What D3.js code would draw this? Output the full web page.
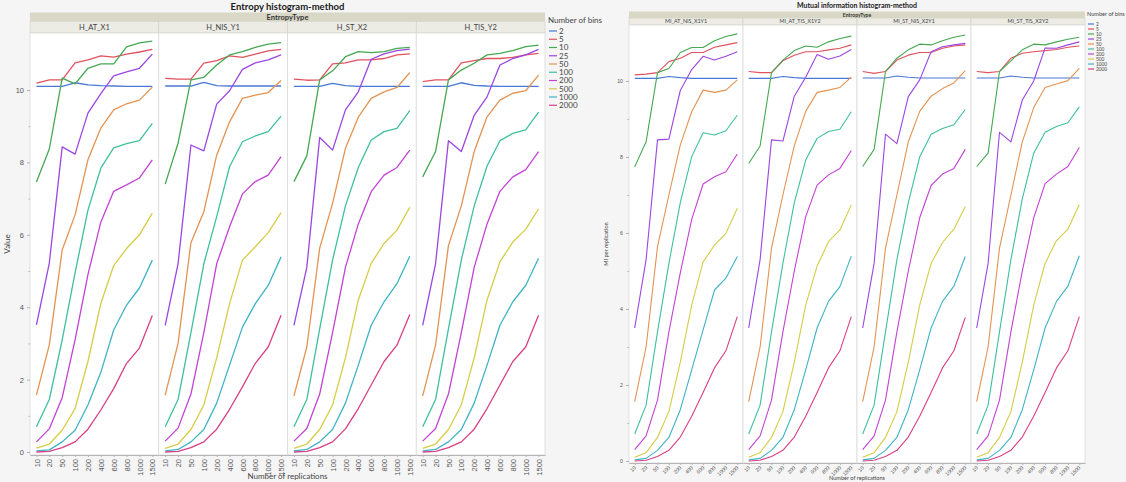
<!DOCTYPE html>
<html lang="en">
<head>
<meta charset="UTF-8">
<title>Entropy / Mutual information histogram-method</title>
<script src="https://d3js.org/d3.v7.min.js"></script>
<style>
    body {
        margin: 0;
        background-color: #f5f5f5;
        font-family: Lato, "Open Sans", "DejaVu Sans", sans-serif;
    }
    svg { display: block; }
    .axis path, .axis line { stroke: #b4b4b4; }
    .axis text { fill: #555; }
</style>
</head>
<body>
<svg id="chart" width="1126" height="482"></svg>
<script>
const replications = ["10", "20", "50", "100", "200", "400", "600", "800", "1000", "1500"];
const bins = ["2", "5", "10", "25", "50", "100", "200", "500", "1000", "2000"];
const entropyTypes = ["H_AT_X1", "H_NIS_Y1", "H_ST_X2", "H_TIS_Y2"];
const miTypes = ["MI_AT_NIS_X1Y1", "MI_AT_TIS_X1Y2", "MI_ST_NIS_X2Y1", "MI_ST_TIS_X2Y2"];
const yTicks = [0, 2, 4, 6, 8, 10];
const yMinorTicks = [1, 3, 5, 7, 9];

// one row per bin count (same order as bins), one value per replication count
const hAtX1 = [
    [10.1, 10.1, 10.1, 10.2, 10.14, 10.12, 10.11, 10.1, 10.1, 10.1],
    [10.19, 10.28, 10.28, 10.75, 10.83, 10.94, 10.91, 10.99, 11.05, 11.12],
    [7.46, 8.37, 10.33, 10.17, 10.6, 10.72, 10.72, 11.19, 11.3, 11.35],
    [3.51, 5.22, 8.43, 8.23, 9.36, 9.9, 10.39, 10.5, 10.6, 10.99],
    [1.57, 2.96, 5.58, 6.55, 8.07, 8.95, 9.45, 9.62, 9.72, 10.08],
    [0.7, 1.45, 3.1, 4.95, 6.68, 7.84, 8.4, 8.52, 8.6, 9.08],
    [0.28, 0.64, 1.5, 3.1, 4.9, 6.35, 7.2, 7.38, 7.57, 8.07],
    [0.11, 0.22, 0.6, 1.2, 2.5, 4.1, 5.15, 5.62, 6.0, 6.6],
    [0.03, 0.06, 0.28, 0.6, 1.3, 2.2, 3.37, 4.06, 4.53, 5.3],
    [0.0, 0.02, 0.12, 0.28, 0.63, 1.16, 1.75, 2.45, 2.87, 3.77]
];
const hNisY1 = [
    [10.11, 10.11, 10.11, 10.21, 10.12, 10.11, 10.11, 10.11, 10.11, 10.11],
    [10.32, 10.3, 10.3, 10.74, 10.81, 10.94, 10.9, 10.99, 11.08, 11.12],
    [7.4, 8.53, 10.28, 10.35, 10.69, 10.97, 11.06, 11.18, 11.27, 11.31],
    [3.5, 5.2, 8.48, 8.32, 9.61, 9.98, 10.57, 10.75, 10.83, 10.97],
    [1.57, 3.0, 5.78, 6.64, 8.2, 9.12, 9.77, 9.86, 9.93, 10.26],
    [0.7, 1.45, 3.3, 5.2, 6.5, 7.88, 8.57, 8.73, 8.85, 9.28],
    [0.3, 0.66, 1.6, 3.3, 5.2, 6.22, 7.13, 7.47, 7.65, 8.16],
    [0.1, 0.22, 0.62, 1.3, 2.6, 4.1, 5.3, 5.67, 6.06, 6.61],
    [0.03, 0.07, 0.28, 0.62, 1.35, 2.4, 3.45, 4.1, 4.6, 5.39],
    [0.0, 0.02, 0.12, 0.28, 0.63, 1.18, 1.8, 2.45, 2.9, 3.78]
];
const hStX2 = [
    [10.1, 10.1, 10.1, 10.18, 10.12, 10.1, 10.1, 10.1, 10.1, 10.1],
    [10.3, 10.27, 10.28, 10.72, 10.75, 10.83, 10.83, 10.87, 10.97, 11.0],
    [7.47, 8.18, 10.28, 10.53, 10.92, 11.06, 11.03, 11.06, 11.15, 11.18],
    [3.5, 5.1, 8.69, 8.34, 9.45, 9.95, 10.85, 11.0, 11.09, 11.13],
    [1.55, 2.9, 5.63, 6.87, 8.39, 9.25, 9.77, 9.95, 10.07, 10.48],
    [0.7, 1.45, 3.4, 5.3, 6.8, 7.86, 8.62, 8.85, 8.94, 9.43],
    [0.3, 0.65, 1.6, 3.3, 5.1, 6.3, 7.19, 7.65, 7.86, 8.34],
    [0.1, 0.22, 0.62, 1.3, 2.6, 4.2, 5.21, 5.76, 6.13, 6.76],
    [0.03, 0.07, 0.28, 0.62, 1.35, 2.4, 3.5, 4.15, 4.65, 5.41],
    [0.0, 0.02, 0.12, 0.28, 0.64, 1.2, 1.85, 2.5, 2.95, 3.8]
];
const hTisY2 = [
    [10.1, 10.1, 10.1, 10.2, 10.13, 10.11, 10.1, 10.1, 10.1, 10.1],
    [10.23, 10.28, 10.28, 10.75, 10.81, 10.87, 10.87, 10.9, 10.97, 11.01],
    [7.6, 8.3, 10.28, 10.55, 10.74, 10.97, 11.01, 11.09, 11.2, 11.24],
    [3.5, 5.2, 8.6, 8.3, 9.3, 9.81, 10.69, 10.87, 10.97, 11.12],
    [1.55, 2.95, 5.7, 6.8, 8.3, 9.26, 9.72, 9.91, 9.98, 10.41],
    [0.7, 1.45, 3.4, 5.3, 6.8, 7.9, 8.6, 8.8, 8.9, 9.39],
    [0.3, 0.65, 1.6, 3.3, 5.1, 6.3, 7.2, 7.6, 7.8, 8.3],
    [0.1, 0.22, 0.62, 1.3, 2.6, 4.2, 5.25, 5.8, 6.15, 6.72],
    [0.03, 0.07, 0.28, 0.62, 1.35, 2.4, 3.5, 4.15, 4.6, 5.35],
    [0.0, 0.02, 0.12, 0.28, 0.63, 1.2, 1.85, 2.5, 2.9, 3.78]
];

const miAtNisX1Y1 = [
    [10.07, 10.07, 10.07, 10.12, 10.09, 10.07, 10.07, 10.07, 10.07, 10.07],
    [10.16, 10.18, 10.22, 10.51, 10.6, 10.75, 10.75, 10.89, 10.95, 11.01],
    [7.74, 8.4, 10.22, 10.33, 10.75, 10.88, 10.88, 11.06, 11.17, 11.24],
    [3.5, 5.3, 8.45, 8.47, 9.75, 10.3, 10.65, 10.55, 10.65, 10.77],
    [1.56, 3.0, 5.64, 7.0, 8.32, 9.19, 9.76, 9.7, 9.76, 10.03],
    [0.71, 1.47, 3.4, 5.2, 6.8, 8.01, 8.64, 8.58, 8.69, 9.1],
    [0.3, 0.66, 1.6, 3.4, 4.95, 6.36, 7.29, 7.48, 7.61, 8.08],
    [0.1, 0.22, 0.62, 1.3, 2.6, 4.1, 5.24, 5.68, 5.99, 6.65],
    [0.03, 0.07, 0.28, 0.62, 1.35, 2.4, 3.45, 4.5, 4.81, 5.38],
    [0.0, 0.02, 0.12, 0.28, 0.63, 1.18, 1.8, 2.45, 2.9, 3.8]
];
const miAtTisX1Y2 = [
    [10.07, 10.07, 10.07, 10.12, 10.09, 10.07, 10.07, 10.07, 10.07, 10.07],
    [10.25, 10.22, 10.22, 10.53, 10.68, 10.77, 10.77, 10.82, 10.86, 10.95],
    [7.83, 8.29, 10.22, 10.55, 10.8, 10.92, 10.89, 11.03, 11.12, 11.18],
    [3.5, 5.3, 8.45, 8.42, 9.6, 10.1, 10.7, 10.57, 10.66, 10.83],
    [1.56, 3.0, 5.6, 7.0, 8.3, 9.2, 9.7, 9.76, 9.83, 10.1],
    [0.71, 1.47, 3.4, 5.2, 6.8, 7.92, 8.49, 8.67, 8.73, 9.19],
    [0.3, 0.66, 1.6, 3.4, 5.0, 6.43, 7.26, 7.53, 7.7, 8.17],
    [0.1, 0.22, 0.62, 1.3, 2.6, 4.1, 5.13, 5.77, 6.08, 6.74],
    [0.03, 0.07, 0.28, 0.62, 1.35, 2.4, 3.5, 4.2, 4.59, 5.39],
    [0.0, 0.02, 0.12, 0.28, 0.63, 1.18, 1.8, 2.45, 2.9, 3.8]
];
const miStNisX2Y1 = [
    [10.08, 10.08, 10.08, 10.13, 10.1, 10.08, 10.08, 10.08, 10.08, 10.08],
    [10.25, 10.2, 10.25, 10.55, 10.68, 10.75, 10.75, 10.86, 10.92, 10.95],
    [7.75, 8.2, 10.25, 10.6, 10.82, 10.97, 10.95, 11.06, 11.15, 11.21],
    [3.5, 5.2, 8.6, 8.35, 9.59, 10.03, 10.77, 10.9, 10.95, 10.99],
    [1.56, 3.0, 5.6, 7.0, 8.4, 9.2, 9.6, 9.8, 9.95, 10.27],
    [0.71, 1.47, 3.4, 5.3, 6.8, 8.0, 8.6, 8.75, 8.85, 9.25],
    [0.3, 0.66, 1.6, 3.4, 5.0, 6.4, 7.25, 7.55, 7.7, 8.2],
    [0.1, 0.22, 0.62, 1.3, 2.6, 4.1, 5.2, 5.75, 6.1, 6.7],
    [0.03, 0.07, 0.28, 0.62, 1.35, 2.4, 3.5, 4.2, 4.6, 5.38],
    [0.0, 0.02, 0.12, 0.28, 0.63, 1.18, 1.8, 2.45, 2.9, 3.78]
];
const miStTisX2Y2 = [
    [10.08, 10.08, 10.08, 10.13, 10.1, 10.08, 10.08, 10.08, 10.08, 10.08],
    [10.25, 10.22, 10.25, 10.6, 10.73, 10.77, 10.8, 10.83, 10.89, 10.92],
    [7.75, 8.1, 10.25, 10.53, 10.82, 10.97, 10.95, 11.03, 11.1, 11.15],
    [3.5, 5.2, 8.65, 8.4, 9.5, 10.0, 10.87, 10.86, 10.95, 11.03],
    [1.56, 3.0, 5.6, 7.0, 8.4, 9.3, 9.83, 9.92, 10.01, 10.33],
    [0.71, 1.47, 3.4, 5.3, 6.9, 8.1, 8.65, 8.8, 8.9, 9.32],
    [0.3, 0.66, 1.6, 3.4, 5.0, 6.4, 7.3, 7.55, 7.75, 8.25],
    [0.1, 0.22, 0.62, 1.3, 2.6, 4.1, 5.2, 5.8, 6.1, 6.75],
    [0.03, 0.07, 0.28, 0.62, 1.35, 2.4, 3.5, 4.2, 4.6, 5.4],
    [0.0, 0.02, 0.12, 0.28, 0.63, 1.18, 1.8, 2.45, 2.9, 3.8]
];

const color = d3.scaleOrdinal()
    .domain(bins)
    .range(["#4a78d6", "#e0525e", "#45a852", "#9b46e2", "#e39352",
            "#3fbf9f", "#c243d3", "#d6cc48", "#3fb3c4", "#d93f86"]);

const svg = d3.select("#chart");

function drawChart(cfg) {
    const g = svg.append("g");
    const fs = cfg.fontSize;
    const panelX = d3.scaleBand().domain(cfg.panels).range([cfg.x0, cfg.x1]);
    const x = d3.scalePoint().domain(replications).range([0, panelX.bandwidth()]).padding(0.5);
    const y = d3.scaleLinear().domain([0, 10]).range(cfg.yRange);
    const mid = (cfg.x0 + cfg.x1) / 2;

    g.append("text")
        .attr("x", mid).attr("y", cfg.titleY)
        .attr("text-anchor", "middle")
        .attr("font-weight", "bold")
        .attr("font-size", cfg.titleSize)
        .attr("fill", "#1a1a1a")
        .text(cfg.title);

    // EntropyType band
    g.append("rect")
        .attr("x", cfg.x0).attr("y", cfg.bandTop)
        .attr("width", cfg.x1 - cfg.x0).attr("height", cfg.labelTop - cfg.bandTop)
        .attr("fill", "#d9d7c6");
    g.append("text")
        .attr("x", mid).attr("y", (cfg.bandTop + cfg.labelTop) / 2)
        .attr("dy", "0.35em")
        .attr("text-anchor", "middle")
        .attr("font-weight", "bold")
        .attr("font-size", fs - 0.5)
        .attr("fill", "#333")
        .text("EntropyType");

    const line = d3.line()
        .x((d, i) => x(replications[i]))
        .y(d => y(d));

    cfg.panels.forEach((p, pi) => {
        const px = panelX(p);
        const pw = panelX.bandwidth();
        g.append("rect")
            .attr("x", px).attr("y", cfg.labelTop)
            .attr("width", pw).attr("height", cfg.plotTop - cfg.labelTop)
            .attr("fill", "#ecebe4").attr("stroke", "#d2d1c6").attr("stroke-width", 0.6);
        g.append("text")
            .attr("x", px + pw / 2).attr("y", (cfg.labelTop + cfg.plotTop) / 2)
            .attr("dy", "0.35em")
            .attr("text-anchor", "middle")
            .attr("font-size", cfg.panelFont)
            .attr("fill", "#444")
            .text(p);

        const pg = g.append("g").attr("transform", `translate(${px},0)`);
        pg.append("rect")
            .attr("x", 0).attr("y", cfg.plotTop)
            .attr("width", pw).attr("height", cfg.plotBottom - cfg.plotTop)
            .attr("fill", "#fff").attr("stroke", "#dadada").attr("stroke-width", 0.8);

        cfg.data[pi].forEach((vals, bi) => {
            pg.append("path")
                .datum(vals)
                .attr("d", line)
                .attr("fill", "none")
                .attr("stroke", color(bins[bi]))
                .attr("stroke-width", cfg.lineWidth)
                .attr("stroke-linejoin", "round");
        });

        const xa = pg.append("g")
            .attr("class", "axis")
            .attr("transform", `translate(0,${cfg.plotBottom})`)
            .call(d3.axisBottom(x).tickSize(2).tickSizeOuter(0));
        xa.select(".domain").attr("stroke", "#c4c4c4");
        xa.selectAll("text")
            .attr("font-size", cfg.tickSize)
            .attr("font-family", null)
            .attr("y", 0).attr("x", 0)
            .attr("dy", cfg.rotate === -90 ? "0.35em" : "0.3em")
            .attr("text-anchor", "end")
            .attr("transform", `translate(0,${cfg.tickPad}) rotate(${cfg.rotate})`);
    });

    // y axis on the first panel
    const ya = g.append("g")
        .attr("class", "axis")
        .attr("transform", `translate(${cfg.x0},0)`)
        .call(d3.axisLeft(y).tickValues(yTicks).tickSize(3).tickSizeOuter(0));
    ya.select(".domain").remove();
    ya.selectAll("text").attr("font-size", cfg.tickSize).attr("font-family", null);
    g.append("g")
        .attr("class", "axis")
        .attr("transform", `translate(${cfg.x0},0)`)
        .call(d3.axisLeft(y).tickValues(yMinorTicks).tickSize(1.5).tickFormat(""))
        .select(".domain").remove();

    g.append("text")
        .attr("transform", `translate(${cfg.yTitleX},${(cfg.plotTop + cfg.plotBottom) / 2}) rotate(-90)`)
        .attr("text-anchor", "middle")
        .attr("font-size", fs)
        .attr("fill", "#444")
        .text(cfg.yTitle);

    g.append("text")
        .attr("x", mid).attr("y", cfg.xTitleY)
        .attr("text-anchor", "middle")
        .attr("font-size", fs)
        .attr("fill", "#444")
        .text("Number of replications");

    // legend
    const lg = g.append("g").attr("transform", `translate(${cfg.legendX},0)`);
    lg.append("text")
        .attr("x", 0).attr("y", cfg.legendTitleY)
        .attr("font-size", fs)
        .attr("fill", "#444")
        .text("Number of bins");
    bins.forEach((b, i) => {
        const ly = cfg.legendY0 + i * cfg.legendStep;
        lg.append("line")
            .attr("x1", 1).attr("x2", 1 + cfg.legendLine)
            .attr("y1", ly).attr("y2", ly)
            .attr("stroke", color(b)).attr("stroke-width", 1.2);
        lg.append("text")
            .attr("x", cfg.legendLine + 3).attr("y", ly)
            .attr("dy", "0.35em")
            .attr("font-size", cfg.legendFont)
            .attr("fill", "#444")
            .text(b);
    });
}

drawChart({
    title: "Entropy histogram-method",
    panels: entropyTypes,
    data: [hAtX1, hNisY1, hStX2, hTisY2],
    x0: 30, x1: 545,
    titleY: 9.5, titleSize: 9.5,
    bandTop: 12.5, labelTop: 21.5, plotTop: 33, plotBottom: 455,
    yRange: [452, 90],
    fontSize: 8, tickSize: 7.5, panelFont: 7.5, legendFont: 8,
    rotate: -90, tickPad: 4,
    lineWidth: 1.3,
    yTitle: "Value", yTitleX: 10,
    xTitleY: 479,
    legendX: 548, legendTitleY: 23, legendY0: 31, legendStep: 8.25, legendLine: 8
});

drawChart({
    title: "Mutual information histogram-method",
    panels: miTypes,
    data: [miAtNisX1Y1, miAtTisX1Y2, miStNisX2Y1, miStTisX2Y2],
    x0: 629, x1: 1085,
    titleY: 8, titleSize: 7,
    bandTop: 11.5, labelTop: 18, plotTop: 25, plotBottom: 463,
    yRange: [461, 81],
    fontSize: 5.6, tickSize: 5.2, panelFont: 5.4, legendFont: 4.8,
    rotate: -45, tickPad: 4,
    lineWidth: 1.1,
    yTitle: "MI per replication", yTitleX: 608,
    xTitleY: 480,
    legendX: 1087, legendTitleY: 16, legendY0: 24, legendStep: 5, legendLine: 6
});
</script>
</body>
</html>
